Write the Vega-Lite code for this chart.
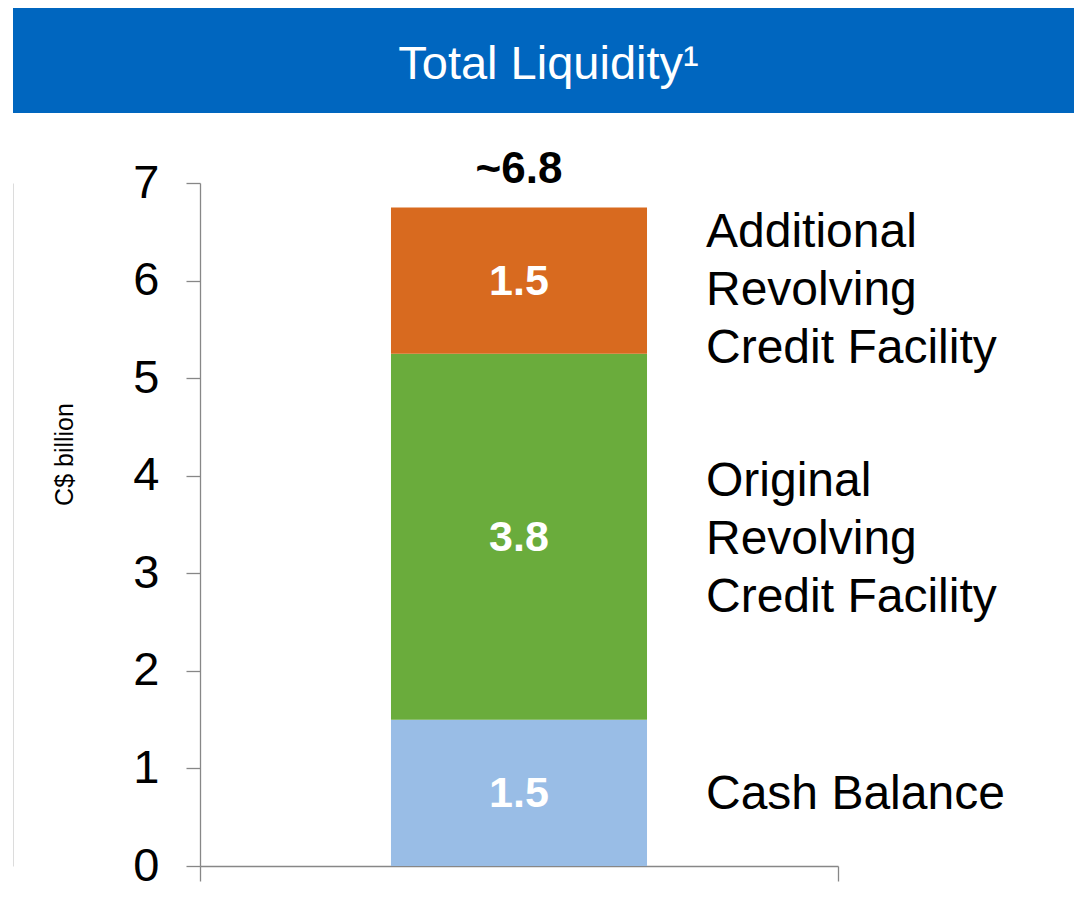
{
  "$schema": "https://vega.github.io/schema/vega-lite/v6.json",
  "padding": {"left": 13, "top": 8, "right": 0, "bottom": 0},
  "background": "white",
  "config": {
    "font": "Liberation Sans",
    "view": {"stroke": null}
  },
  "datasets": {
    "segments": [
      {"category": "Total Liquidity", "segment": "Cash Balance", "label": "Cash Balance", "value": 1.5, "rank": 1},
      {"category": "Total Liquidity", "segment": "Original Revolving Credit Facility", "label": "Original\nRevolving\nCredit Facility", "value": 3.75, "rank": 2},
      {"category": "Total Liquidity", "segment": "Additional Revolving Credit Facility", "label": "Additional\nRevolving\nCredit Facility", "value": 1.5, "rank": 3}
    ],
    "total": [{"category": "Total Liquidity", "total": 6.75, "label": "~6.8"}],
    "banner": [{"title": "Total Liquidity¹"}]
  },
  "spacing": 35,
  "vconcat": [
    {
      "width": 1061,
      "height": 105,
      "view": {"fill": "#0066BF", "stroke": null},
      "data": {"name": "banner"},
      "mark": {"type": "text", "color": "white", "fontSize": 47, "baseline": "middle", "dy": 4, "dx": 5},
      "encoding": {"text": {"field": "title", "type": "nominal"}}
    },
    {
      "width": 1061,
      "height": 683,
      "resolve": {"axis": {"y": "independent"}},
      "layer": [
        {
          "data": {"name": "segments"},
          "mark": {"type": "bar", "width": {"band": 0.4013}},
          "encoding": {
            "x": {
              "field": "category", "type": "nominal",
              "scale": {"paddingInner": 0, "paddingOuter": 0, "range": [187, 825]},
              "axis": {"labels": false, "title": null, "tickBand": "extent", "tickSize": 15, "domainColor": "#878787", "tickColor": "#878787", "domainWidth": 1.3, "tickWidth": 1.3}
            },
            "y": {
              "field": "value", "type": "quantitative", "stack": "zero",
              "scale": {"domain": [0, 7], "nice": false},
              "axis": {
                "orient": "left",
                "offset": -187,
                "values": [0, 1, 2, 3, 4, 5, 6, 7],
                "title": "C$ billion", "titleFontSize": 25, "titleFontWeight": "normal", "titleColor": "black", "titlePadding": 55, "titleY": 271,
                "labelFontSize": 47, "labelColor": "black", "labelPadding": 27,
                "tickSize": 14, "grid": false,
                "domainColor": "#878787", "tickColor": "#878787", "domainWidth": 1.3, "tickWidth": 1.3
              }
            },
            "color": {
              "field": "segment", "type": "nominal",
              "scale": {
                "domain": ["Cash Balance", "Original Revolving Credit Facility", "Additional Revolving Credit Facility"],
                "range": ["#99BDE6", "#6AAC3C", "#D86A1F"]
              },
              "legend": null
            },
            "order": {"field": "rank", "type": "quantitative"}
          }
        },
        {
          "data": {"name": "total"},
          "mark": {"type": "text", "color": "black", "fontSize": 44, "fontWeight": "bold", "baseline": "alphabetic", "dy": -24},
          "encoding": {
            "x": {"field": "category", "type": "nominal"},
            "y": {
              "field": "total", "type": "quantitative",
              "axis": {"orient": "left", "offset": 0, "labels": false, "ticks": false, "title": null, "grid": false, "domainColor": "#dcdcdc", "domainWidth": 1}
            },
            "text": {"field": "label", "type": "nominal"}
          }
        },
        {
          "data": {"name": "segments"},
          "transform": [
            {"stack": "value", "groupby": ["category"], "sort": [{"field": "rank"}], "as": ["v0", "v1"]},
            {"fold": ["v0", "v1"], "as": ["edge", "pos"]},
            {"aggregate": [{"op": "mean", "field": "pos", "as": "mid"}], "groupby": ["category", "segment", "label", "value", "rank"]}
          ],
          "layer": [
            {
              "mark": {"type": "text", "color": "white", "fontSize": 43, "fontWeight": "bold", "baseline": "middle", "dy": 1},
              "encoding": {
                "x": {"field": "category", "type": "nominal"},
                "y": {"field": "mid", "type": "quantitative", "axis": null},
                "text": {"field": "value", "type": "quantitative", "format": ".1f"}
              }
            },
            {
              "transform": [{"filter": "datum.rank == 1"}],
              "mark": {"type": "text", "color": "black", "fontSize": 48, "align": "left", "baseline": "middle", "dx": 187, "dy": 2, "lineHeight": 58, "lineBreak": "\n"},
              "encoding": {
                "x": {"field": "category", "type": "nominal"},
                "y": {"field": "mid", "type": "quantitative", "axis": null},
                "text": {"field": "label", "type": "nominal"}
              }
            },
            {
              "transform": [{"filter": "datum.rank == 2"}],
              "mark": {"type": "text", "color": "black", "fontSize": 48, "align": "left", "baseline": "middle", "dx": 187, "dy": -55, "lineHeight": 58, "lineBreak": "\n"},
              "encoding": {
                "x": {"field": "category", "type": "nominal"},
                "y": {"field": "mid", "type": "quantitative", "axis": null},
                "text": {"field": "label", "type": "nominal"}
              }
            },
            {
              "transform": [{"filter": "datum.rank == 3"}],
              "mark": {"type": "text", "color": "black", "fontSize": 48, "align": "left", "baseline": "middle", "dx": 187, "dy": -48, "lineHeight": 58, "lineBreak": "\n"},
              "encoding": {
                "x": {"field": "category", "type": "nominal"},
                "y": {"field": "mid", "type": "quantitative", "axis": null},
                "text": {"field": "label", "type": "nominal"}
              }
            }
          ]
        }
      ]
    }
  ]
}
